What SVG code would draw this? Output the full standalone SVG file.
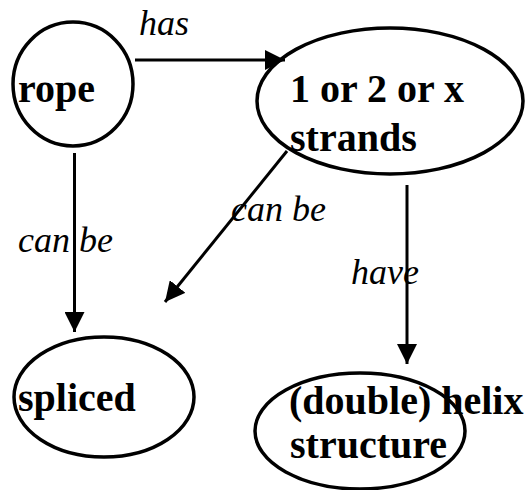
<svg xmlns="http://www.w3.org/2000/svg" width="526" height="490" viewBox="0 0 526 490">
<defs>
<marker id="ah" viewBox="0 0 20 20" refX="20" refY="10" markerWidth="20" markerHeight="20" markerUnits="userSpaceOnUse" orient="auto">
<path d="M0,0 L20,10 L0,20 Z" fill="#000"/>
</marker>
<style>
.node{fill:none;stroke:#000;stroke-width:3.5}
.lbl{font-family:'Liberation Serif','Times New Roman','DejaVu Serif',serif;font-weight:bold;font-size:40px;fill:#000}
.elbl{font-family:'Liberation Serif','Times New Roman','DejaVu Serif',serif;font-style:italic;font-size:36px;fill:#000}
.edge{stroke:#000;stroke-width:3;fill:none;marker-end:url(#ah)}
</style>
</defs>
<rect width="526" height="490" fill="#fff"/>
<g id="connectors">
<line class="edge" x1="135" y1="60" x2="285" y2="60"/>
<line class="edge" x1="74.5" y1="153" x2="74.5" y2="332"/>
<line class="edge" x1="287" y1="151" x2="165" y2="302"/>
<line class="edge" x1="407" y1="185" x2="407" y2="364"/>
<text class="elbl" x="139" y="35" font-family="Liberation Serif, serif">has</text>
<text class="elbl" x="18" y="252" font-family="Liberation Serif, serif">can be</text>
<text class="elbl" x="231" y="221" font-family="Liberation Serif, serif">can be</text>
<text class="elbl" x="351" y="284" font-family="Liberation Serif, serif">have</text>
</g>
<g id="rope">
<ellipse class="node" cx="73" cy="84" rx="60" ry="62"/>
<text class="lbl" x="18" y="102" font-family="Liberation Serif, serif">rope</text>
</g>
<g id="strands">
<ellipse class="node" cx="390" cy="101" rx="133" ry="73"/>
<text class="lbl" x="290" y="102" font-family="Liberation Serif, serif">1 or 2 or x</text>
<text class="lbl" x="290" y="151" font-family="Liberation Serif, serif">strands</text>
</g>
<g id="spliced">
<ellipse class="node" cx="104" cy="397" rx="90" ry="60"/>
<text class="lbl" x="18" y="411" font-family="Liberation Serif, serif">spliced</text>
</g>
<g id="helix">
<ellipse class="node" cx="360" cy="431" rx="105" ry="58"/>
<text class="lbl" x="289" y="414" font-family="Liberation Serif, serif">(double) helix</text>
<text class="lbl" x="290" y="458" font-family="Liberation Serif, serif">structure</text>
</g>
</svg>
